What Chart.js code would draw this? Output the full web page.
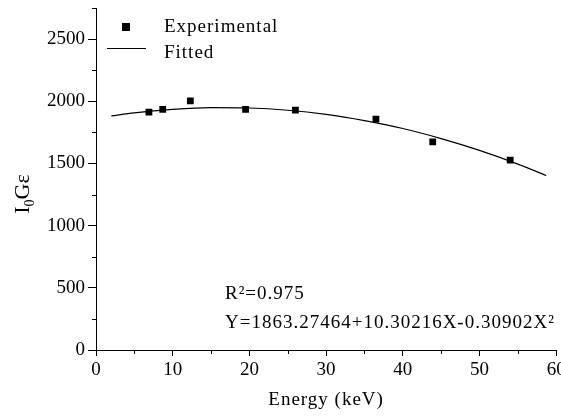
<!DOCTYPE html>
<html>
<head>
<meta charset="utf-8">
<script src="https://cdn.jsdelivr.net/npm/chart.js@4/dist/chart.umd.min.js"></script>
<style>
  html, body { margin: 0; padding: 0; background: #fff; }
  #wrap { width: 561px; height: 417px; position: relative; }
</style>
</head>
<body>
<div id="wrap"><canvas id="chart"></canvas></div>
<script>
// measured points
const energyKeV = [6.9, 8.7, 12.3, 19.5, 26.0, 36.5, 43.9, 54.0];
const intensity = [1913, 1935, 2004, 1935, 1929, 1857, 1674, 1527];

// fitted curve
const fitEnergy = [2, 5, 10, 15, 20, 25, 30, 35, 40, 45, 50, 55, 58.7];
const fitValues = [1882, 1907, 1935, 1949, 1946, 1928, 1894, 1844, 1781, 1700, 1605, 1495, 1403];

const xTicks = [0, 10, 20, 30, 40, 50, 60];
const yTicks = [0, 500, 1000, 1500, 2000, 2500];
const seriesLabels = ["Experimental", "Fitted"];
const fitNotes = ["R\u00B2=0.975", "Y=1863.27464+10.30216X-0.30902X\u00B2"];
const xTitle = "Energy (keV)";

const serif = "'Liberation Serif', 'Times New Roman', serif";

const extras = {
  id: "extras",
  afterDraw(chart) {
    const ctx = chart.ctx;
    const xs = chart.scales.x, ys = chart.scales.y;
    ctx.save();
    ctx.strokeStyle = "#000";
    ctx.fillStyle = "#000";
    ctx.lineWidth = 1;

    // minor ticks
    ctx.beginPath();
    for (let v = 5; v < 60; v += 10) {
      const px = Math.round(xs.getPixelForValue(v)) + 0.5;
      ctx.moveTo(px, xs.top);
      ctx.lineTo(px, xs.top + 4);
    }
    for (let v = 250; v <= 2750; v += 500) {
      const py = Math.round(ys.getPixelForValue(v)) + 0.5;
      ctx.moveTo(ys.right - 4, py);
      ctx.lineTo(ys.right, py);
    }
    ctx.stroke();

    // legend
    ctx.font = "19px " + serif;
    ctx.letterSpacing = "1px";
    ctx.textBaseline = "alphabetic";
    ctx.textAlign = "left";
    ctx.fillRect(122, 23, 8, 8);
    ctx.fillText(chart.data.datasets[0].label, 164, 32);
    ctx.beginPath();
    ctx.moveTo(107, 48.5);
    ctx.lineTo(146, 48.5);
    ctx.stroke();
    ctx.fillText(chart.data.datasets[1].label, 164, 58);

    // fit notes
    ctx.fillText(fitNotes[0], 225, 299);
    ctx.fillText(fitNotes[1], 225, 328);

    // x axis title
    ctx.textAlign = "center";
    ctx.fillText(xTitle, (chart.chartArea.left + chart.chartArea.right) / 2, 405);
    ctx.textAlign = "left";
    ctx.letterSpacing = "0px";

    // y axis title: I0 G epsilon
    ctx.translate(29, 194);
    ctx.rotate(-Math.PI / 2);
    const big = "22px " + serif, small = "14px " + serif;
    ctx.font = big;
    const wI = ctx.measureText("I").width;
    const wG = ctx.measureText("G\u03B5").width;
    ctx.font = small;
    const w0 = ctx.measureText("0").width;
    let x0 = -(wI + w0 + wG) / 2;
    ctx.font = big;
    ctx.fillText("I", x0, 0);
    ctx.font = small;
    ctx.fillText("0", x0 + wI, 5);
    ctx.font = big;
    ctx.fillText("G\u03B5", x0 + wI + w0, 0);
    ctx.restore();
  }
};

new Chart(document.getElementById("chart"), {
  type: "scatter",
  data: {
    datasets: [
      {
        label: seriesLabels[0],
        data: energyKeV.map((e, i) => ({ x: e, y: intensity[i] })),
        pointStyle: "rect",
        pointRadius: 4.8,
        pointBorderWidth: 0,
        backgroundColor: "#000",
        borderColor: "#000",
        showLine: false
      },
      {
        label: seriesLabels[1],
        data: fitEnergy.map((e, i) => ({ x: e, y: fitValues[i] })),
        showLine: true,
        pointRadius: 0,
        borderColor: "#000",
        borderWidth: 1.2,
        tension: 0.4,
        cubicInterpolationMode: "monotone"
      }
    ]
  },
  options: {
    responsive: true,
    maintainAspectRatio: false,
    animation: false,
    layout: { padding: { top: 8, right: 4, left: 0, bottom: 0 } },
    plugins: {
      legend: { display: false },
      tooltip: { enabled: false }
    },
    scales: {
      x: {
        type: "linear",
        min: 0,
        max: 60,
        afterBuildTicks: (scale) => { scale.ticks = xTicks.map(v => ({ value: v })); },
        afterFit: (scale) => { scale.height = 67; scale.paddingLeft = 0; scale.paddingRight = 0; },
        ticks: {
          color: "#000",
          font: { family: serif, size: 19 },
          padding: 3,
          maxRotation: 0,
          callback: (v) => String(v)
        },
        grid: { drawOnChartArea: false, tickLength: 6, tickColor: "#000" },
        border: { display: true, color: "#000", width: 1 }
      },
      y: {
        type: "linear",
        min: 0,
        max: 2750,
        afterBuildTicks: (scale) => { scale.ticks = yTicks.map(v => ({ value: v })); },
        afterFit: (scale) => { scale.width = 96; scale.paddingTop = 0; scale.paddingBottom = 0; },
        ticks: {
          color: "#000",
          font: { family: serif, size: 19 },
          padding: 3,
          callback: (v) => String(v)
        },
        grid: { drawOnChartArea: false, tickLength: 8, tickColor: "#000" },
        border: { display: true, color: "#000", width: 1 }
      }
    }
  },
  plugins: [extras]
});
</script>
</body>
</html>
